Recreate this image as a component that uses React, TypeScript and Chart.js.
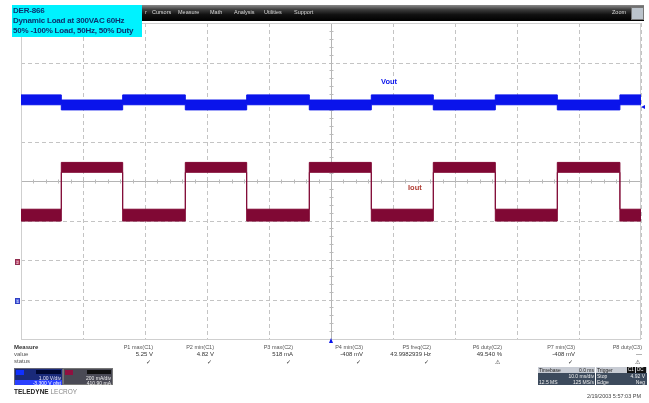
import React, { useEffect, useRef } from "react";
import { Chart, registerables } from "chart.js";

Chart.register(...registerables);

// ---------- DATA ----------
// Time axis: 10 ms/div, 10 divisions
const timeGridMs = [-50, -40, -30, -20, -10, 0, 10, 20, 30, 40, 50];
// Start time (ms) of each flat segment of the load step; last entry closes the record
const segmentStartMs = [-50, -43.5, -33.6, -23.5, -13.6, -3.5, 6.5, 16.5, 26.5, 36.5, 46.6, 50];
// C1 Vout band (V): upper / lower edge of the noisy trace in each segment
const voutTop = [5.23, 5.10, 5.23, 5.10, 5.23, 5.10, 5.23, 5.10, 5.23, 5.10, 5.23, 5.23];
const voutBottom = [4.98, 4.85, 4.98, 4.85, 4.98, 4.85, 4.98, 4.85, 4.98, 4.85, 4.98, 4.98];
// C2 Iout band (mA)
const ioutTop = [268, 505, 268, 505, 268, 505, 268, 505, 268, 505, 268, 268];
const ioutBottom = [208, 455, 208, 455, 208, 455, 208, 455, 208, 455, 208, 208];
// Channel settings
const c1VoltsPerDiv = 1.0;
const c1ZeroDiv = -3.05;
const c2mAPerDiv = 200;
const c2OffsetmA = 410.9;
const triggerLevelV = 4.92;

// Measurement table
const measureHeaders = ["P1 max(C1)", "P2 min(C1)", "P3 max(C2)", "P4 min(C3)", "P5 freq(C2)", "P6 duty(C2)", "P7 min(C3)", "P8 duty(C3)"];
const measureValues = ["5.25 V", "4.82 V", "518 mA", "-408 mV", "43.9982939 Hz", "49.540 %", "-408 mV", "---"];
const measureStatus = ["✓", "✓", "✓", "✓", "✓", "⚠", "✓", "⚠"];
const menuItems = ["r", "Cursors", "Measure", "Math", "Analysis", "Utilities", "Support"];
const titleLines = ["DER-866", "Dynamic Load at 300VAC 60Hz", "50% -100% Load, 50Hz, 50% Duty"];

// ---------- LAYOUT ----------
const W = 649;
const H = 403;
const measureColRight = [153, 214, 293, 363, 431, 502, 575, 642];
const menuItemLeft = [145, 152, 178, 210, 234, 264, 294];

const BLUE = "rgb(10,20,235)";
const MAROON = "rgb(128,8,52)";

const pts = (vals: number[]) => segmentStartMs.map((t, i) => ({ x: t, y: vals[i] }));

const gridPlugin = {
  id: "scopeGrid",
  beforeDatasetsDraw(chart: any) {
    const { ctx, chartArea } = chart;
    const { left, right, top, bottom } = chartArea;
    const xs = chart.scales.x;
    const w = right - left;
    const h = bottom - top;
    ctx.save();
    ctx.lineWidth = 1;
    // vertical
    timeGridMs.forEach((t) => {
      const px = Math.round(xs.getPixelForValue(t)) + 0.5;
      if (t === 0) {
        ctx.setLineDash([]);
        ctx.strokeStyle = "#b4b4b4";
      } else {
        ctx.setLineDash([4, 3]);
        ctx.strokeStyle = "#c4c4c4";
      }
      ctx.beginPath();
      ctx.moveTo(px, top);
      ctx.lineTo(px, bottom);
      ctx.stroke();
    });
    // horizontal (8 divisions)
    for (let k = 0; k <= 8; k++) {
      const py = Math.round(top + (k * h) / 8) + 0.5;
      if (k === 4) {
        ctx.setLineDash([]);
        ctx.strokeStyle = "#b4b4b4";
      } else {
        ctx.setLineDash([4, 3]);
        ctx.strokeStyle = "#c4c4c4";
      }
      ctx.beginPath();
      ctx.moveTo(left, py);
      ctx.lineTo(right, py);
      ctx.stroke();
    }
    // minor ticks on center lines
    ctx.setLineDash([]);
    ctx.strokeStyle = "#bbbbbb";
    const cx = Math.round(xs.getPixelForValue(0)) + 0.5;
    const cy = Math.round(top + h / 2) + 0.5;
    for (let i = 0; i <= 50; i++) {
      const px = Math.round(left + (i * w) / 50) + 0.5;
      ctx.beginPath();
      ctx.moveTo(px, cy - 2);
      ctx.lineTo(px, cy + 2);
      ctx.stroke();
    }
    for (let i = 0; i <= 40; i++) {
      const py = Math.round(top + (i * h) / 40) + 0.5;
      ctx.beginPath();
      ctx.moveTo(cx - 2, py);
      ctx.lineTo(cx + 2, py);
      ctx.stroke();
    }
    // frame
    ctx.strokeStyle = "#cfcfcf";
    ctx.strokeRect(left + 0.5, top + 0.5, w - 1, h);
    ctx.restore();
  },
};

export default function App() {
  const canvasRef = useRef<HTMLCanvasElement | null>(null);
  const markerRef = useRef<{ c1: number; c2: number; trig: number; t0: number }>({ c1: 0, c2: 0, trig: 0, t0: 0 });
  const [marks, setMarks] = React.useState<{ c1: number; c2: number; trig: number; t0: number } | null>(null);

  useEffect(() => {
    if (!canvasRef.current) return;
    const vMin = (-4 - c1ZeroDiv) * c1VoltsPerDiv;
    const vMax = (4 - c1ZeroDiv) * c1VoltsPerDiv;
    const iMin = c2OffsetmA - 4 * c2mAPerDiv;
    const iMax = c2OffsetmA + 4 * c2mAPerDiv;
    const line = (data: any, color: string, axis: string, fill: any) => ({
      data,
      yAxisID: axis,
      borderColor: color,
      backgroundColor: color,
      borderWidth: 1,
      pointRadius: 0,
      stepped: true,
      fill,
    });
    const chart = new Chart(canvasRef.current, {
      type: "line",
      data: {
        datasets: [
          line(pts(ioutTop), MAROON, "yi", false),
          line(pts(ioutBottom), MAROON, "yi", "-1"),
          line(pts(voutTop), BLUE, "yv", false),
          line(pts(voutBottom), BLUE, "yv", "-1"),
        ] as any,
      },
      options: {
        animation: false,
        responsive: false,
        devicePixelRatio: 1,
        events: [],
        layout: { padding: { left: 21, right: 8, top: 23, bottom: 64 } },
        plugins: { legend: { display: false }, tooltip: { enabled: false }, filler: { propagate: false } } as any,
        scales: {
          x: { type: "linear", min: timeGridMs[0], max: timeGridMs[timeGridMs.length - 1], display: false },
          yv: { type: "linear", min: vMin, max: vMax, display: false },
          yi: { type: "linear", min: iMin, max: iMax, display: false },
        },
      },
      plugins: [gridPlugin],
    });
    const m = {
      c1: chart.scales.yv.getPixelForValue(0),
      c2: chart.scales.yi.getPixelForValue(0),
      trig: chart.scales.yv.getPixelForValue(triggerLevelV),
      t0: chart.scales.x.getPixelForValue(0),
    };
    markerRef.current = m;
    setMarks(m);
    return () => chart.destroy();
  }, []);

  const font = "'Liberation Sans', Arial, sans-serif";
  const abs = (s: React.CSSProperties): React.CSSProperties => ({ position: "absolute", ...s });

  return (
    <div style={{ position: "fixed", left: 0, top: 0, width: W, height: H, background: "#fff", overflow: "hidden", fontFamily: font }}>
      <canvas ref={canvasRef} width={W} height={H} style={abs({ left: 0, top: 0, width: W, height: H })} />

      {/* menu bar */}
      <div style={abs({ left: 140, top: 5, width: 504, height: 16, background: "linear-gradient(#8a8a8a 0%, #3a3a3a 30%, #111 60%, #000 100%)" })} />
      {menuItems.map((m, i) => (
        <div key={m} style={abs({ left: menuItemLeft[i], top: 9, fontSize: 5.5, color: "#d8d8d8", whiteSpace: "nowrap" })}>{m}</div>
      ))}
      <div style={abs({ left: 612, top: 9, fontSize: 5.5, color: "#d8d8d8" })}>Zoom</div>
      <div style={abs({ left: 631, top: 7, width: 11, height: 11, background: "#bcc4cc", border: "1px solid #777" })} />

      {/* title box */}
      <div style={abs({ left: 12, top: 5, width: 130, height: 32, background: "#00f2ff" })} />
      {titleLines.map((t, i) => (
        <div key={i} style={abs({ left: 13, top: 6 + i * 10, fontSize: 8, lineHeight: "10px", fontWeight: "bold", color: "#0b3470", whiteSpace: "nowrap", letterSpacing: -0.2 })}>{t}</div>
      ))}

      {/* trace labels */}
      <div style={abs({ left: 381, top: 77, fontSize: 7.5, fontWeight: "bold", color: BLUE })}>Vout</div>
      <div style={abs({ left: 408, top: 183, fontSize: 7.5, fontWeight: "bold", color: "rgb(175,60,50)" })}>Iout</div>

      {/* markers */}
      {marks && (
        <>
          <div style={abs({ left: 15, top: marks.c2 - 3, width: 5, height: 6, background: "#c05070", border: "1px solid #903050", boxSizing: "border-box", fontSize: 4, color: "#fff", textAlign: "center", lineHeight: "5px" })}>2</div>
          <div style={abs({ left: 15, top: marks.c1 - 3, width: 5, height: 6, background: "#6070e8", border: "1px solid #3040c0", boxSizing: "border-box", fontSize: 4, color: "#fff", textAlign: "center", lineHeight: "5px" })}>1</div>
          <div style={abs({ left: 641, top: marks.trig - 2, width: 0, height: 0, borderTop: "2px solid transparent", borderBottom: "2px solid transparent", borderRight: "4px solid " + BLUE })} />
          <div style={abs({ left: marks.t0 - 2.5, top: 338, width: 0, height: 0, borderLeft: "2.5px solid transparent", borderRight: "2.5px solid transparent", borderBottom: "5px solid " + BLUE })} />
        </>
      )}

      {/* measure table */}
      <div style={abs({ left: 14, top: 344, fontSize: 6, fontWeight: "bold", color: "#333" })}>Measure</div>
      <div style={abs({ left: 14, top: 351, fontSize: 6, color: "#555" })}>value</div>
      <div style={abs({ left: 14, top: 358, fontSize: 6, color: "#555" })}>status</div>
      {measureHeaders.map((h, i) => (
        <React.Fragment key={h}>
          <div style={abs({ left: measureColRight[i] - 60, width: 60, top: 344, fontSize: 5.5, color: "#555", textAlign: "right", whiteSpace: "nowrap" })}>{h}</div>
          <div style={abs({ left: measureColRight[i] - 60, width: 60, top: 351, fontSize: 6, color: "#333", textAlign: "right", whiteSpace: "nowrap" })}>{measureValues[i]}</div>
          <div style={abs({ left: measureColRight[i] - 60, width: 58, top: 358, fontSize: 6, color: "#333", textAlign: "right", whiteSpace: "nowrap" })}>{measureStatus[i]}</div>
        </React.Fragment>
      ))}

      {/* channel boxes */}
      <div style={abs({ left: 14, top: 368, width: 49, height: 17, background: "#1a2a7a", border: "1px solid #667" , boxSizing: "border-box"})} />
      <div style={abs({ left: 16, top: 370, width: 8, height: 5, background: "#1030ff" })} />
      <div style={abs({ left: 36, top: 370, width: 25, height: 4, background: "#000833" })} />
      <div style={abs({ left: 15, top: 375, width: 46, fontSize: 5, color: "#e8e8ff", textAlign: "right" })}>1.00 V/div</div>
      <div style={abs({ left: 15, top: 380, width: 47, height: 5, background: "#2a40ff" })} />
      <div style={abs({ left: 15, top: 379.5, width: 46, fontSize: 5, color: "#fff", textAlign: "right" })}>-3.300 V ofst</div>

      <div style={abs({ left: 63, top: 368, width: 50, height: 17, background: "#4a4a55", border: "1px solid #777", boxSizing: "border-box" })} />
      <div style={abs({ left: 65, top: 370, width: 8, height: 5, background: "#901040" })} />
      <div style={abs({ left: 87, top: 370, width: 24, height: 4, background: "#111" })} />
      <div style={abs({ left: 64, top: 375, width: 47, fontSize: 5, color: "#eee", textAlign: "right" })}>200 mA/div</div>
      <div style={abs({ left: 64, top: 380, width: 47, fontSize: 5, color: "#eee", textAlign: "right" })}>410.90 mA</div>

      <div style={abs({ left: 14, top: 388, fontSize: 6.5, whiteSpace: "nowrap" })}>
        <span style={{ fontWeight: "bold", color: "#222" }}>TELEDYNE</span>
        <span style={{ color: "#888" }}> LECROY</span>
      </div>

      {/* timebase / trigger boxes */}
      <div style={abs({ left: 538, top: 367, width: 57, height: 18, background: "#3c4a5c" })} />
      <div style={abs({ left: 538, top: 367, width: 57, height: 6, background: "#c8ccd4" })} />
      <div style={abs({ left: 539, top: 366.5, fontSize: 5, color: "#222" })}>Timebase</div>
      <div style={abs({ left: 560, top: 366.5, width: 34, fontSize: 5, color: "#222", textAlign: "right" })}>0.0 ms</div>
      <div style={abs({ left: 560, top: 372.5, width: 34, fontSize: 5, color: "#eee", textAlign: "right" })}>10.0 ms/div</div>
      <div style={abs({ left: 539, top: 378.5, fontSize: 5, color: "#eee", whiteSpace: "nowrap" })}>12.5 MS</div>
      <div style={abs({ left: 560, top: 378.5, width: 34, fontSize: 5, color: "#eee", textAlign: "right" })}>125 MS/s</div>

      <div style={abs({ left: 596, top: 367, width: 51, height: 18, background: "#3c4a5c" })} />
      <div style={abs({ left: 596, top: 367, width: 51, height: 6, background: "#c8ccd4" })} />
      <div style={abs({ left: 627, top: 367, width: 8, height: 6, background: "#111" })} />
      <div style={abs({ left: 636, top: 367, width: 10, height: 6, background: "#111" })} />
      <div style={abs({ left: 597, top: 366.5, fontSize: 5, color: "#222" })}>Trigger</div>
      <div style={abs({ left: 628, top: 366.5, fontSize: 4.5, color: "#fff" })}>C1</div>
      <div style={abs({ left: 637, top: 366.5, fontSize: 4.5, color: "#fff" })}>DC</div>
      <div style={abs({ left: 597, top: 372.5, fontSize: 5, color: "#eee" })}>Stop</div>
      <div style={abs({ left: 615, top: 372.5, width: 30, fontSize: 5, color: "#eee", textAlign: "right" })}>4.92 V</div>
      <div style={abs({ left: 597, top: 378.5, fontSize: 5, color: "#eee" })}>Edge</div>
      <div style={abs({ left: 615, top: 378.5, width: 30, fontSize: 5, color: "#eee", textAlign: "right" })}>Neg</div>

      <div style={abs({ left: 560, top: 393, width: 81, fontSize: 5.5, color: "#444", textAlign: "right", whiteSpace: "nowrap" })}>2/19/2003 5:57:03 PM</div>
    </div>
  );
}
